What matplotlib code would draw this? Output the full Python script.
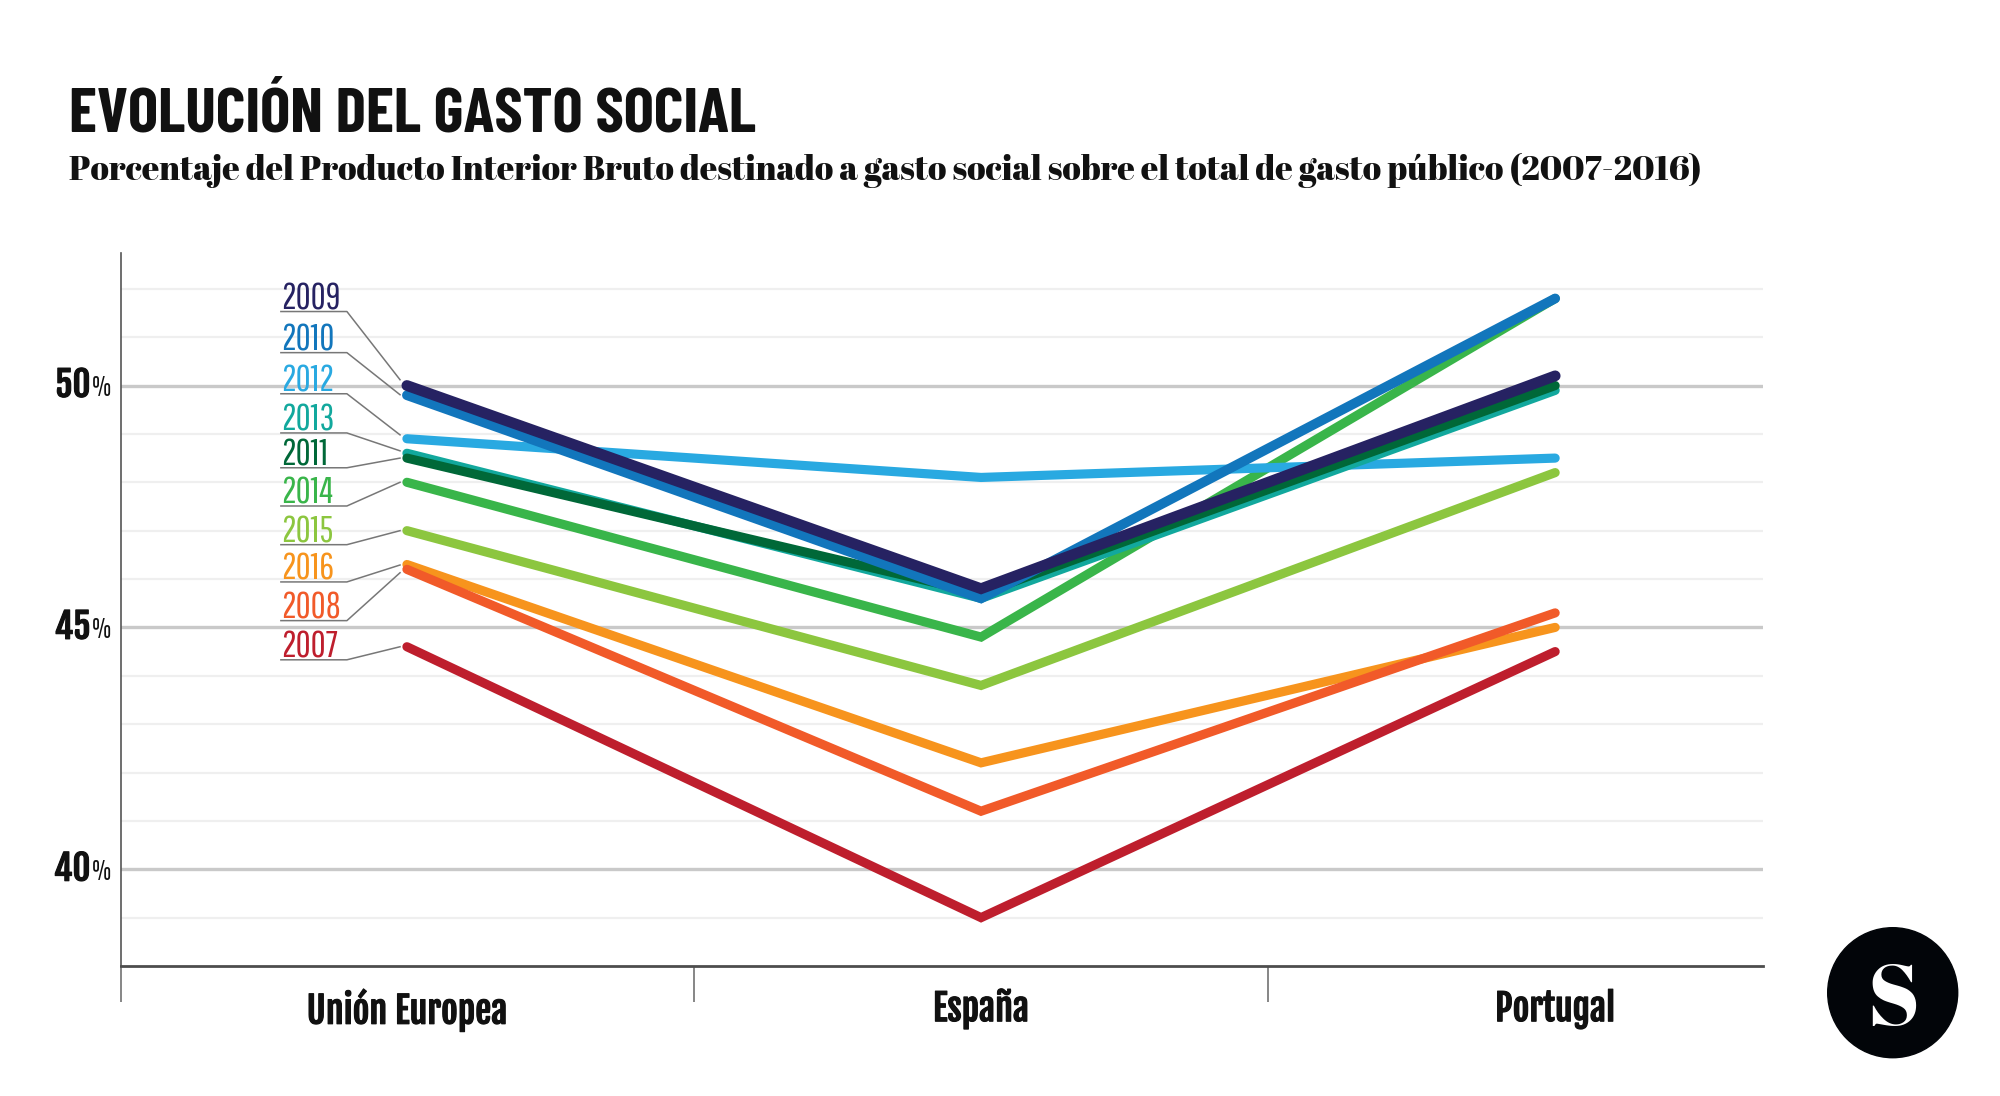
import matplotlib
matplotlib.use("Agg")
import matplotlib.pyplot as plt
import matplotlib.patheffects as pe
from matplotlib import font_manager
from matplotlib.patches import Circle

# -----------------------------
# Data
# -----------------------------
regions = ["Unión Europea", "España", "Portugal"]

# bottom to top drawing order
years = ["2007", "2016", "2008", "2015", "2014", "2012", "2013", "2011", "2010", "2009"]
gasto_2007 = [44.6, 39.0, 44.5]
gasto_2016 = [46.3, 42.2, 45.0]
gasto_2008 = [46.2, 41.2, 45.3]
gasto_2015 = [47.0, 43.8, 48.2]
gasto_2014 = [48.0, 44.8, 51.8]
gasto_2012 = [48.9, 48.1, 48.5]
gasto_2013 = [48.6, 45.6, 49.9]
gasto_2011 = [48.5, 45.7, 50.0]
gasto_2010 = [49.8, 45.6, 51.8]
gasto_2009 = [50.0, 45.8, 50.2]
series = [gasto_2007, gasto_2016, gasto_2008, gasto_2015, gasto_2014,
          gasto_2012, gasto_2013, gasto_2011, gasto_2010, gasto_2009]

colors = ["#be1e2d", "#f7941d", "#f15a29", "#8cc63f", "#39b54a",
          "#29a9e1", "#12a89d", "#006838", "#1276bc", "#262262"]
widths = [6.6, 6.6, 6.6, 6.6, 6.6, 6.6, 6.6, 6.6, 7.0, 7.8]

# label rows (top to bottom): underline level and where the leader ends
label_years = ["2009", "2010", "2012", "2013", "2011", "2014", "2015", "2016", "2008", "2007"]
label_levels = [51.53, 50.68, 49.83, 49.02, 48.30, 47.51, 46.71, 45.94, 45.14, 44.33]
leader_ends = [50.12, 49.81, 48.98, 48.65, 48.50, 48.00, 47.00, 46.29, 46.13, 44.60]


def pick(*candidates):
    # first installed family, DejaVu as the last resort
    installed = {f.name for f in font_manager.fontManager.ttflist}
    for name in candidates:
        if name in installed:
            return name
    return "DejaVu Sans"


TITLE = pick("Barlow Condensed", "Fjalla One", "Liberation Sans")
GOTHIC = pick("Fjalla One", "Oswald", "Liberation Sans")
THIN = pick("Pathway Gothic One", "League Gothic", "Liberation Sans")
SERIF = pick("Abril Fatface", "DM Serif Display", "Liberation Serif")

# slightly heavier text for the condensed face
heavy = [pe.withStroke(linewidth=0.8, foreground="#111111")]

# -----------------------------
# Figure
# -----------------------------
fig = plt.figure(figsize=(20, 10.96), dpi=100)
ax = fig.add_axes([121 / 2000, 1 - 966 / 1096, (1763 - 121) / 2000, (966 - 253) / 1096])
ax.set_xlim(-0.498, 2.362)
ax.set_ylim(38, 52.74)

# Grid
for v in range(39, 53):
    major = v % 5 == 0
    ax.axhline(v, color="#c9c9c9" if major else "#efefef", lw=2.4 if major else 1.6, zorder=1)

# Lines
x = [0, 1, 2]
for year, vals, c, w in zip(years, series, colors, widths):
    ax.plot(x, vals, color=c, lw=w, solid_capstyle="round", solid_joinstyle="miter", zorder=3, label=year)

# Axes
for side in ["top", "right"]:
    ax.spines[side].set_visible(False)
ax.spines["left"].set_color("#555555")
ax.spines["left"].set_linewidth(1.2)
ax.spines["bottom"].set_color("#4d4d4d")
ax.spines["bottom"].set_linewidth(2.0)

ax.set_xticks([-0.498, 0.5, 1.5])
ax.set_xticklabels([])
ax.tick_params(axis="x", which="major", length=26, width=1.1, color="#666666")
ax.set_xticks(x, minor=True)
ax.set_xticklabels(regions, minor=True, family=GOTHIC, fontsize=26, color="#111111", path_effects=heavy)
ax.tick_params(axis="x", which="minor", length=0, pad=16)
ax.set_yticks([])

for v in [40, 45, 50]:
    ax.annotate(str(v), (0, v), xycoords=ax.get_yaxis_transform(), xytext=(-22, 0), textcoords="offset points",
                ha="right", va="center", family=GOTHIC, fontsize=25, color="#111111", path_effects=heavy)
    ax.annotate("%", (0, v), xycoords=ax.get_yaxis_transform(), xytext=(-21, -2), textcoords="offset points",
                ha="left", va="center", family=THIN, fontsize=20, color="#111111")

# Year labels with leaders
label_colors = dict(zip(years, colors))
for year, level, end in zip(label_years, label_levels, leader_ends):
    ax.plot([-0.2195, -0.1045, -0.012], [level, level, end], color="#777777", lw=1.1, zorder=2)
    ax.text(-0.2195, level + 0.05, year, ha="left", va="baseline", family=THIN, fontsize=26.5,
            color=label_colors[year], zorder=4)

# Title
fig.text(69 / 2000, 1 - 131 / 1096, "EVOLUCIÓN DEL GASTO SOCIAL", family=TITLE, fontweight="bold",
         fontsize=46, color="#111111", va="baseline")
fig.text(69 / 2000, 1 - 180 / 1096,
         "Porcentaje del Producto Interior Bruto destinado a gasto social sobre el total de gasto público (2007-2016)",
         family=SERIF, fontsize=24.35, color="#111111", va="baseline")

# Logo
logo = fig.add_axes([(1892.7 - 70) / 2000, 1 - (992.7 + 70) / 1096, 140 / 2000, 140 / 1096])
logo.set_xlim(-70, 70)
logo.set_ylim(-70, 70)
logo.axis("off")
logo.add_patch(Circle((0, 0), 65, color="#020509"))
logo.text(0, 0, "S", color="white", family=SERIF, fontsize=62, ha="center", va="center_baseline")

fig.savefig("out.png", dpi=100)
